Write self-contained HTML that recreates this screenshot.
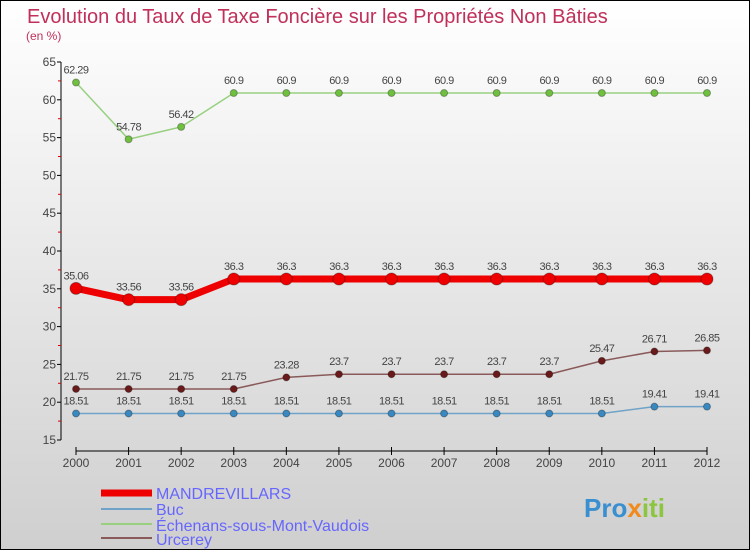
<!DOCTYPE html>
<html><head><meta charset="utf-8"><style>
body{margin:0}
#c{width:750px;height:550px;position:relative;box-sizing:border-box;border:1px solid #000;background:linear-gradient(#ffffff,#cfcfcf);font-family:"Liberation Sans",sans-serif;overflow:hidden}
</style></head><body>
<div id="c">
<svg id="s" width="748" height="548" style="position:absolute;left:0;top:0">
<text x="26" y="22" font-size="20" fill="#c0305a">Evolution du Taux de Taxe Foncière sur les Propriétés Non Bâties</text>
<text x="25" y="39" font-size="12" fill="#c0305a">(en %)</text>
<g id="ax"></g><g id="ser"></g>
<g>
<line x1="100" y1="492" x2="151" y2="492" stroke="#ee0000" stroke-width="7"/>
<text x="155" y="498" font-size="16" fill="#6666ff">MANDREVILLARS</text>
<line x1="100" y1="508" x2="151" y2="508" stroke="#6fa3c8" stroke-width="2"/>
<text x="155" y="514" font-size="16" fill="#6666ff">Buc</text>
<line x1="100" y1="523" x2="151" y2="523" stroke="#98d080" stroke-width="2"/>
<text x="155" y="530" font-size="16" fill="#6666ff">Échenans-sous-Mont-Vaudois</text>
<line x1="100" y1="537" x2="151" y2="537" stroke="#8a5a5a" stroke-width="2"/>
<text x="155" y="544" font-size="16" fill="#6666ff">Urcerey</text>
</g>
<text x="583" y="516" font-size="26" font-weight="bold" fill="#3a8fd0">Pro<tspan fill="#f08a1a">x</tspan><tspan fill="#8cc63f">iti</tspan></text>
</svg>
</div>
<script>
const years=[2000,2001,2002,2003,2004,2005,2006,2007,2008,2009,2010,2011,2012];
const yTicks=[15,20,25,30,35,40,45,50,55,60,65];
const mandrevillars=[35.06,33.56,33.56,36.3,36.3,36.3,36.3,36.3,36.3,36.3,36.3,36.3,36.3];
const buc=[18.51,18.51,18.51,18.51,18.51,18.51,18.51,18.51,18.51,18.51,18.51,19.41,19.41];
const echenans=[62.29,54.78,56.42,60.9,60.9,60.9,60.9,60.9,60.9,60.9,60.9,60.9,60.9];
const urcerey=[21.75,21.75,21.75,21.75,23.28,23.7,23.7,23.7,23.7,23.7,25.47,26.71,26.85];
const NS="http://www.w3.org/2000/svg";
const X=i=>75+i*(706-75)/(years.length-1);
const Y=v=>439-(v-15)*(439-61)/50;
function mk(t,a,p){const e=document.createElementNS(NS,t);for(const k in a)e.setAttribute(k,a[k]);p.appendChild(e);return e;}
const ax=document.getElementById('ax');
let l=mk('line',{x1:60,y1:Y(65),x2:60,y2:Y(15),stroke:'#000'},ax);


yTicks.forEach(v=>{
 let t=mk('line',{x1:56,y1:Y(v),x2:60,y2:Y(v),stroke:'#000'},ax);
 
 
 if(v<65){let m=mk('line',{x1:57,y1:Y(v+2.5),x2:60,y2:Y(v+2.5),stroke:'#d00'},ax);
 
 }
 let tx=mk('text',{x:55,y:Y(v)+4,'text-anchor':'end','font-size':12,fill:'#444'},ax);tx.textContent=v;
 
 
});
l=mk('line',{x1:X(0),y1:450,x2:X(12),y2:450,stroke:'#000'},ax);


years.forEach((y,i)=>{
 let t=mk('line',{x1:X(i),y1:446,x2:X(i),y2:454,stroke:'#000'},ax);
 
 
 let tx=mk('text',{x:X(i),y:466,'text-anchor':'middle','font-size':12,fill:'#444'},ax);tx.textContent=y;
 
 
});
const ser=document.getElementById('ser');
function draw(vals,name,col,dot,w,r){
 const g=mk('g',{},ser);
 
 
 let p=mk('polyline',{points:vals.map((v,i)=>X(i)+','+Y(v)).join(' '),fill:'none',stroke:col,'stroke-width':w,'stroke-linejoin':'round'},g);
 
 
 vals.forEach((v,i)=>{
  let c=mk('circle',{cx:X(i),cy:Y(v),r:r,fill:dot,stroke:'rgba(0,0,0,0.3)'},g);
  
  
  let t=mk('text',{x:X(i),y:Y(v)-9,'text-anchor':'middle','font-size':11,fill:'#444','letter-spacing':'-0.5'},g);t.textContent=v;
  
  
 });
}
draw(echenans,'echenans','#98d080','#70c040',1.5,3.5);
draw(urcerey,'urcerey','#8a5a5a','#6a1a1a',1.5,3.5);
draw(buc,'buc','#6fa3c8','#3a88c0',1.5,3.5);
draw(mandrevillars,'mandrevillars','#ee0000','#ee0000',7,6);
</script>
</body></html>
